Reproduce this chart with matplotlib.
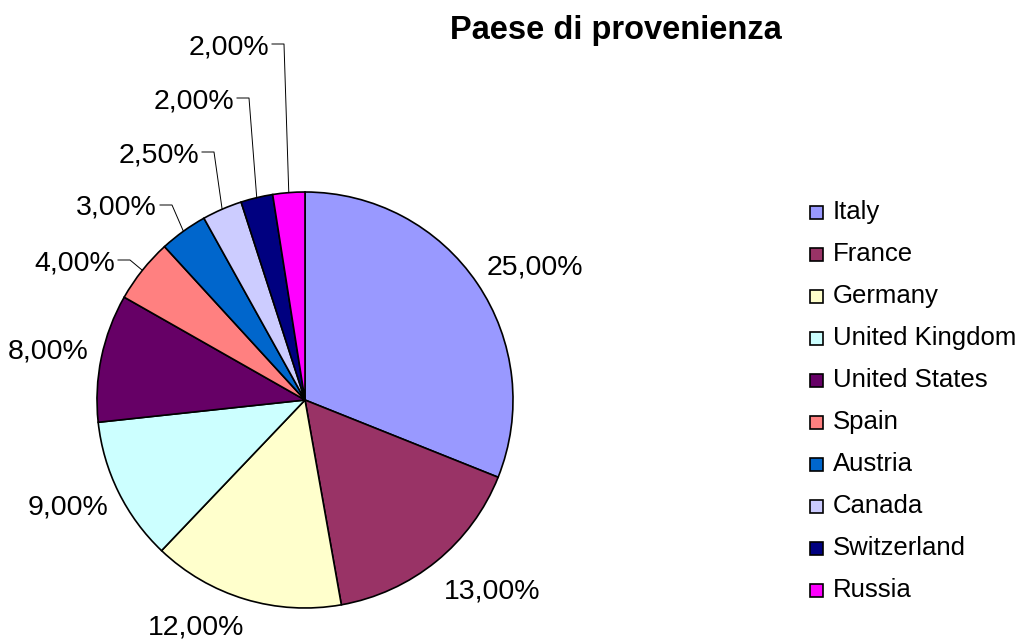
import numpy as np
import matplotlib.pyplot as plt

countries = ['Italy', 'France', 'Germany', 'United Kingdom', 'United States',
             'Spain', 'Austria', 'Canada', 'Switzerland', 'Russia']
shares = [25.0, 13.0, 12.0, 9.0, 8.0, 4.0, 3.0, 2.5, 2.0, 2.0]
colors = ['#9999FF', '#993366', '#FFFFCC', '#CCFFFF', '#660066',
          '#FF8080', '#0066CC', '#CCCCFF', '#000080', '#FF00FF']

W, H = 1018, 643
fig = plt.figure(figsize=(W / 100, H / 100), dpi=100)
ax = fig.add_axes([0, 0, 1, 1])
plt.rcParams['font.family'] = ['Liberation Sans', 'DejaVu Sans']

cx, cy, r = 305, H - 400, 208
wedges, _ = ax.pie(shares, colors=colors, startangle=90, counterclock=False,
                   center=(cx, cy), radius=r,
                   wedgeprops={'edgecolor': 'black', 'linewidth': 1.2})

labels = [('%.2f%%' % v).replace('.', ',') for v in shares]

# label placement (image pixels): plain labels centred, small slices use leaders
plain_pos = {0: (535, 267), 1: (492, 592), 2: (196, 628), 3: (68, 508), 4: (48, 352)}
leader_pos = {5: (115, 263), 6: (157, 208), 7: (199, 155), 8: (234, 101), 9: (269, 47)}

for i, lab in enumerate(labels):
    if i in plain_pos:
        x, y = plain_pos[i]
        ax.text(x, H - y, lab, ha='center', va='center', fontsize=20.5)
    else:
        x, y = leader_pos[i]
        ax.text(x, H - y, lab, ha='right', va='center', fontsize=20.5)
        w = wedges[i]
        mid = np.deg2rad((w.theta1 + w.theta2) / 2)
        ex, ey = cx + r * np.cos(mid), cy + r * np.sin(mid)
        ly = H - y + 3
        ax.plot([x + 3, x + 15, ex], [ly, ly, ey], color='black', lw=0.7)

ax.text(616, H - 30, 'Paese di provenienza', ha='center', va='center',
        fontsize=23.5, fontweight='bold')

# legend
for i, (name, c) in enumerate(zip(countries, colors)):
    y = H - (212 + i * 42)
    ax.add_patch(plt.Rectangle((810, y - 6.5), 13, 13, facecolor=c,
                               edgecolor='black', lw=1.2))
    ax.text(833, y, name, ha='left', va='center', fontsize=18.5)

ax.set_xlim(0, W)
ax.set_ylim(0, H)
ax.set_aspect('equal')
ax.axis('off')
fig.savefig('out.png', dpi=100)
